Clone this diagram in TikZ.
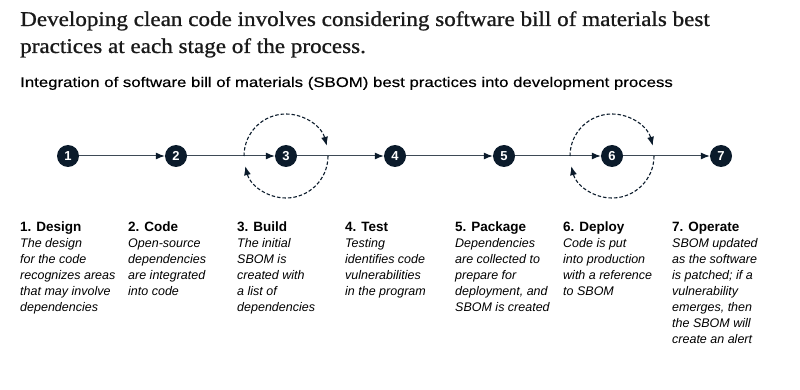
\documentclass[tikz,border=0pt]{standalone}
\usepackage{fontspec}
\setmainfont{Liberation Serif}
\setsansfont{Liberation Sans}
\newfontfamily\titlefont[FakeStretch=1.1,FakeBold=0.9]{Liberation Serif}
\newfontfamily\subfont[FakeStretch=1.2,FakeBold=0.4]{Liberation Sans}
\usetikzlibrary{arrows.meta}
\definecolor{navy}{HTML}{0B1B2B}
\definecolor{lineg}{HTML}{3E4A56}
\tikzset{
  stepdot/.style={circle,fill=navy,minimum size=22pt,inner sep=0pt,text=white,font=\sffamily\bfseries\fontsize{13pt}{13pt}\selectfont},
  conn/.style={draw=lineg,line width=1pt,-{Latex[length=9pt,width=7pt,color=navy]}},
  loop/.style={draw=navy,line width=1.1pt,dashed,dash pattern=on 3.5pt off 2pt,-{Latex[length=9pt,width=7pt]}},
  desc/.style={anchor=north west,align=left,inner sep=0pt,font=\sffamily\itshape\fontsize{12.5pt}{16pt}\selectfont,text=black},
}
\newcommand{\hd}[2]{\strut{\fontsize{13.5pt}{16pt}\selectfont\bfseries\upshape #1.\hspace{5pt}#2}\\}
\begin{document}
\begin{tikzpicture}[x=1pt,y=-1pt]
\useasboundingbox (0,0) rectangle (800,390);
\node[anchor=base west,inner sep=0pt,font=\titlefont\fontsize{21pt}{27pt}\selectfont,align=left,text=black!90] (title) at (20,53) {Developing clean code involves considering software bill of materials best\\practices at each stage of the process.};
\node[anchor=base west,inner sep=0pt,font=\subfont\fontsize{14pt}{16pt}\selectfont] (sub) at (20,87) {Integration of software bill of materials (SBOM) best practices into development process};
\foreach \i/\x in {1/68,2/176,3/286,4/395,5/504,6/612,7/721}{
  \node[stepdot] (s\i) at (\x,156) {\i};
}
\foreach \a/\b in {1/2,2/3,3/4,4/5,5/6,6/7}{
  \draw[conn] (s\a) -- (s\b);
}
\foreach \c in {s3,s6}{
  \draw[loop] (\c) ++(180:42) arc[start angle=180,end angle=346,radius=42];
  \draw[loop] (\c) ++(0:42) arc[start angle=0,end angle=166,radius=42];
}
\node[desc] (d1) at (20,220) {\hd{1}{Design}The design\\for the code\\recognizes areas\\that may involve\\dependencies};
\node[desc] (d2) at (128,220) {\hd{2}{Code}Open-source\\dependencies\\are integrated\\into code};
\node[desc] (d3) at (237,220) {\hd{3}{Build}The initial\\SBOM is\\created with\\a list of\\dependencies};
\node[desc] (d4) at (345,220) {\hd{4}{Test}Testing\\identifies code\\vulnerabilities\\in the program};
\node[desc] (d5) at (455,220) {\hd{5}{Package}Dependencies\\are collected to\\prepare for\\deployment, and\\SBOM is created};
\node[desc] (d6) at (563,220) {\hd{6}{Deploy}Code is put\\into production\\with a reference\\to SBOM};
\node[desc] (d7) at (672,220) {\hd{7}{Operate}SBOM updated\\as the software\\is patched; if a\\vulnerability\\emerges, then\\the SBOM will\\create an alert};
\end{tikzpicture}
\end{document}
